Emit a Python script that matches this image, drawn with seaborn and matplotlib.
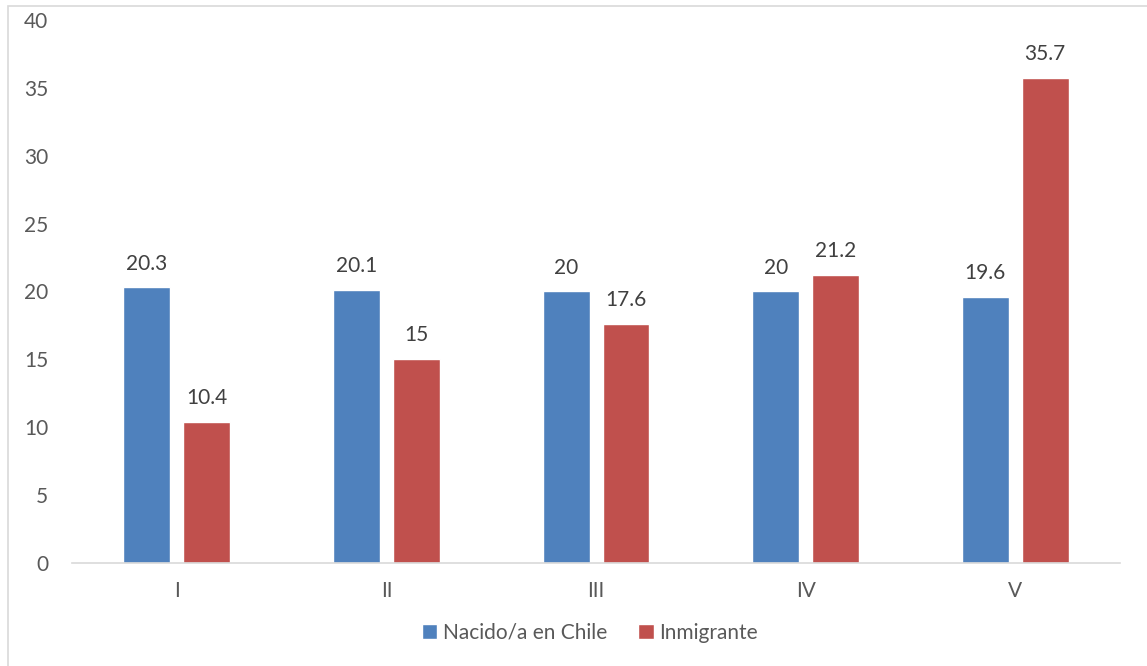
import pandas as pd
import matplotlib.pyplot as plt
import seaborn as sns
from matplotlib.patches import Rectangle

# --- Data
quintiles = ['I', 'II', 'III', 'IV', 'V']
chile = [20.3, 20.1, 20, 20, 19.6]
inmigrante = [10.4, 15, 17.6, 21.2, 35.7]
series = ['Nacido/a en Chile', 'Inmigrante']

df = pd.DataFrame({
    'Quintil': quintiles * 2,
    'Grupo': [series[0]] * len(quintiles) + [series[1]] * len(quintiles),
    'Valor': chile + inmigrante,
})

sns.set_style('white')
plt.rcParams['font.family'] = ['Lato', 'DejaVu Sans']
text_color = '#595959'

fig = plt.figure(figsize=(11.47, 6.66), dpi=100)
ax = fig.add_axes([0.0628, 0.1547, 0.9137, 0.8153])

palette = {series[0]: '#4F81BD', series[1]: '#C0504D'}
sns.barplot(data=df, x='Quintil', y='Valor', hue='Grupo', hue_order=series,
            palette=palette, width=0.572, gap=0.217, saturation=1, ax=ax)

# value labels
for container in ax.containers:
    ax.bar_label(container, labels=[f'{v:g}' for v in container.datavalues],
                 padding=10, fontsize=15, color='#404040')

ax.set_ylim(0, 40)
ax.set_yticks(range(0, 41, 5))
ax.set_xlim(-0.5, 4.5)
ax.set_xlabel('')
ax.set_ylabel('')
for side in ['top', 'right', 'left']:
    ax.spines[side].set_visible(False)
ax.spines['bottom'].set_color('#D9D9D9')
ax.spines['bottom'].set_linewidth(1.2)
ax.tick_params(axis='both', length=0, labelsize=15, colors=text_color)
ax.tick_params(axis='y', pad=17)
ax.tick_params(axis='x', pad=13)

leg = ax.legend(loc='upper center', bbox_to_anchor=(0.494, -0.076), ncol=2,
                frameon=False, fontsize=15, handlelength=0.75, handleheight=0.75,
                handletextpad=0.25, columnspacing=1.5)
for t in leg.get_texts():
    t.set_color(text_color)

# chart area border (partly cropped in the original)
fig.patches.append(Rectangle((8 / 1147, -0.1), 1.2, 1.1 - 6 / 666,
                             transform=fig.transFigure, fill=False,
                             edgecolor='#D9D9D9', linewidth=1.2))

fig.savefig('out.png', dpi=100)
